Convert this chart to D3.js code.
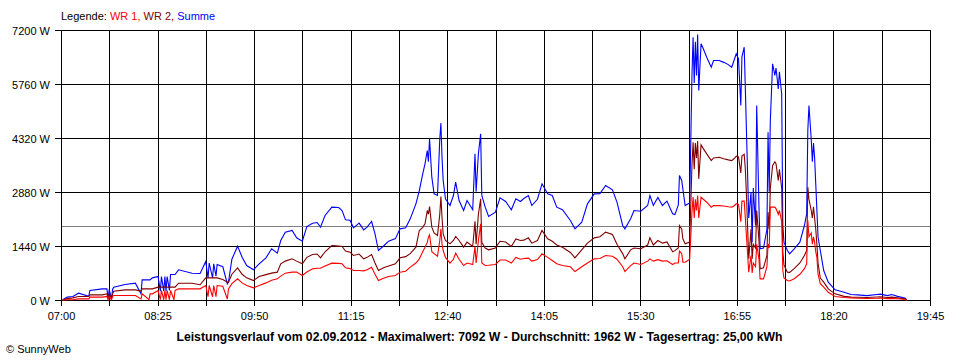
<!DOCTYPE html>
<html><head><meta charset="utf-8">
<script src="https://cdn.jsdelivr.net/npm/d3@7"></script>
<style>
html,body{margin:0;padding:0;background:#fff;}
svg{display:block;font-family:"Liberation Sans",Arial,sans-serif;}
</style></head>
<body>
<svg id="c" width="960" height="360"></svg>
<script>
const times = ["07:01","07:05","07:10","07:15","07:24","07:25","07:36","07:40","07:41","07:42","07:44","07:45","07:46","07:56","08:05","08:10","08:11","08:17","08:18","08:20","08:25","08:27","08:28","08:30","08:31","08:32","08:33","08:35","08:36","08:39","08:40","08:43","08:55","09:02","09:07","09:09","09:10","09:13","09:14","09:16","09:17","09:22","09:26","09:27","09:30","09:35","09:39","09:43","09:49","09:54","10:00","10:05","10:10","10:13","10:17","10:23","10:27","10:32","10:36","10:41","10:45","10:48","10:52","10:58","11:04","11:07","11:10","11:14","11:17","11:22","11:26","11:29","11:33","11:36","11:39","11:44","11:48","11:54","11:58","12:03","12:07","12:12","12:15","12:18","12:20","12:22","12:23","12:24","12:26","12:28","12:31","12:33","12:34","12:35","12:36","12:38","12:42","12:45","12:47","12:50","12:54","12:57","13:02","13:04","13:05","13:07","13:09","13:10","13:13","13:16","13:22","13:26","13:31","13:36","13:40","13:44","13:47","13:51","13:54","13:59","14:03","14:08","14:12","14:16","14:21","14:28","14:32","14:38","14:43","14:49","14:54","14:59","15:05","15:09","15:14","15:16","15:21","15:24","15:30","15:36","15:38","15:41","15:45","15:49","15:53","15:58","16:00","16:03","16:04","16:06","16:07","16:09","16:13","16:15","16:16","16:17","16:18","16:19","16:20","16:21","16:23","16:25","16:28","16:32","16:34","16:39","16:43","16:47","16:50","16:52","16:54","16:56","16:58","16:59","17:01","17:02","17:03","17:05","17:07","17:08","17:09","17:11","17:12","17:14","17:15","17:18","17:21","17:22","17:23","17:24","17:26","17:28","17:29","17:31","17:32","17:34","17:35","17:36","17:39","17:41","17:45","17:50","17:54","17:56","17:57","17:58","18:00","18:01","18:02","18:03","18:04","18:05","18:06","18:08","18:11","18:15","18:21","18:29","18:35","18:41","18:49","18:58","19:01","19:07","19:11","19:16","19:23","19:24"];
const summe = [20,90,105,195,110,267,311,311,40,300,40,300,356,427,462,180,551,551,551,604,640,250,640,250,640,250,640,270,693,693,693,818,728,720,1040,600,1000,600,980,650,960,900,444,489,1100,1449,1156,933,818,978,1138,1378,1262,1600,1822,1867,1671,1582,1973,2062,2080,1956,2267,2489,2480,2400,2151,2140,1938,2062,1884,1956,2107,1778,1333,1467,1582,1650,1911,1938,2178,2578,2933,3378,3644,4000,3700,4311,3289,2844,2800,4300,4729,3800,3200,2711,2533,2800,3156,2667,2400,2667,2420,3911,2900,3911,4444,2800,2489,2240,2356,2738,2640,2418,2711,2640,2720,2800,2533,2700,3111,2844,2800,2489,2420,2133,1911,2089,2578,2844,2850,3067,2950,2622,2000,1911,2178,2400,2380,2533,2800,2533,2750,2533,2650,2311,2290,2550,3333,3200,2978,2533,2600,6000,7022,5800,6900,6000,7092,5600,6844,6711,6489,6222,6400,6400,6350,6290,6220,6400,6578,6440,5200,6500,6756,5644,4500,2200,2889,1556,3000,2000,5200,2500,1378,1400,1900,4489,2900,4800,6311,6000,6200,5640,6100,5500,2000,1556,1333,1244,1378,1556,2000,2311,4533,5200,4300,3700,4200,3800,3100,2400,1700,1333,800,489,284,222,160,150,130,160,170,130,160,110,60,0];
const wr2 = [10,50,70,107,107,151,151,178,60,178,60,178,249,284,284,250,311,311,311,311,356,356,356,356,356,356,356,356,356,356,356,462,462,420,604,604,604,604,604,604,604,560,489,489,700,871,700,604,533,640,690,730,756,978,1050,1111,1050,978,1150,1227,1240,1138,1300,1467,1450,1440,1320,1289,1200,1240,1111,1150,1227,1000,800,880,920,978,1138,1170,1250,1422,1867,1950,2044,2400,2300,2507,1956,1800,1733,2300,2773,2200,1778,1600,1511,1600,1707,1600,1422,1556,1440,2111,1500,2300,2711,1550,1400,1351,1400,1580,1560,1440,1640,1600,1610,1671,1530,1600,1867,1644,1580,1480,1422,1280,1138,1350,1530,1671,1700,1822,1760,1500,1250,1111,1350,1400,1380,1480,1671,1480,1600,1530,1560,1300,1330,1400,2000,1900,1644,1511,1560,3600,4222,3500,4200,3800,4250,3244,4150,4050,3911,3733,3800,3820,3780,3750,3730,3780,3850,3830,3400,3850,3900,3500,2800,1111,1900,1111,1500,1400,2400,1600,844,870,1200,2356,1900,3000,3600,3700,3650,3200,3500,3000,1300,950,756,750,850,1000,1200,1333,3022,2700,2400,2200,2500,2200,1900,1500,1000,600,489,311,178,110,89,85,80,95,100,80,90,70,40,0];
const wr1 = [10,20,20,44,44,89,89,110,20,110,20,110,133,133,133,40,178,20,178,178,267,20,267,20,267,20,267,20,267,20,267,311,311,311,400,100,400,100,400,100,400,380,40,311,450,578,470,400,338,400,470,540,578,650,729,756,756,667,760,844,860,860,920,996,990,978,871,850,800,800,790,820,889,700,533,600,640,667,756,780,889,1000,1111,1300,1422,1550,1689,1750,1300,1250,1180,1600,1911,1500,1333,1150,996,1100,1262,1100,933,1000,960,1440,1000,1600,2044,1000,933,940,960,1080,1080,1000,1150,1100,1120,1130,1050,1090,1244,1150,1067,980,933,900,773,900,1000,1111,1120,1200,1180,1100,900,773,930,1000,960,1050,1111,1050,1090,1050,1060,960,1000,1000,1316,1250,1022,1022,1100,2356,2756,2200,2700,2400,2800,2200,2756,2700,2620,2489,2530,2530,2520,2500,2489,2520,2580,2560,2100,2650,2650,2200,1700,756,1200,733,1000,900,1500,1100,578,578,900,1500,1400,2489,2489,2489,2450,2300,2400,2100,800,600,533,520,580,700,850,978,2133,1700,1800,1500,1700,1550,1300,1150,700,450,356,220,107,80,70,60,55,60,65,50,55,45,25,0];

const xTickLabels = ["07:00","08:25","09:50","11:15","12:40","14:05","15:30","16:55","18:20","19:45"];
const yTicks = [0,1440,2880,4320,5760,7200];
const average = 1962;
const legendItems = [["Legende: ","#000000"],["WR 1, ","#ff0000"],["WR 2, ","#800000"],["Summe","#0000ff"]];
const titleText = "Leistungsverlauf vom 02.09.2012 - Maximalwert: 7092 W - Durchschnitt: 1962 W - Tagesertrag: 25,00 kWh";
const copyText = "\u00A9 SunnyWeb";

const toMin = s => { const [h,m] = s.split(":").map(Number); return h*60+m; };
const svg = d3.select("#c");
const L = 61, R = 930, T = 30, B = 300;
const tMin = toMin(xTickLabels[0]), tMax = toMin(xTickLabels[xTickLabels.length-1]);
const x = d3.scaleLinear().domain([tMin, tMax]).range([L + 0.5, R + 0.5]);
const y = d3.scaleLinear().domain([0, 7200]).range([B + 0.5, T + 0.5]);

const step = (tMax - tMin) / (xTickLabels.length - 1);
const gridT = d3.range(0, 2*(xTickLabels.length-1)+1).map(i => tMin + i*step/2);

const g = svg.append("g").attr("shape-rendering","crispEdges");
g.selectAll(".vg").data(gridT).enter().append("line")
  .attr("x1", d=>Math.round(x(d)-0.5)+0.5).attr("x2", d=>Math.round(x(d)-0.5)+0.5)
  .attr("y1", y(7200)).attr("y2", B + 6).attr("stroke","#000");
g.selectAll(".hg").data(yTicks).enter().append("line")
  .attr("x1", L - 6).attr("x2", R + 0.5)
  .attr("y1", d=>y(d)).attr("y2", d=>y(d)).attr("stroke","#000");
g.append("line").attr("x1", L+1).attr("x2", R).attr("y1", Math.round(y(average)-0.5)+0.5).attr("y2", Math.round(y(average)-0.5)+0.5)
  .attr("stroke","#808080");

svg.selectAll(".yl").data(yTicks).enter().append("text")
  .attr("x", 50).attr("y", d=>y(d)+4).attr("text-anchor","end")
  .attr("font-size","11px").attr("fill","#000").text(d=>d+" W");
svg.selectAll(".xl").data(xTickLabels).enter().append("text")
  .attr("x", d=>x(toMin(d))).attr("y", 320).attr("text-anchor","middle")
  .attr("font-size","11px").attr("fill","#000").text(d=>d);

const mk = arr => times.map((t,i)=>({t:toMin(t), v:arr[i]}));
const line = d3.line().x(d=>x(d.t)).y(d=>y(d.v)).curve(d3.curveLinear);
const lg = svg.append("g").attr("fill","none").attr("stroke-width",1.1);
lg.append("path").attr("d", line(mk(summe))).attr("stroke","#0000ff");
lg.append("path").attr("d", line(mk(wr2))).attr("stroke","#800000");
lg.append("path").attr("d", line(mk(wr1))).attr("stroke","#ff0000");

const lt = svg.append("text").attr("x", 61).attr("y", 20).attr("font-size","11px");
legendItems.forEach(([s,c]) => lt.append("tspan").attr("fill",c).text(s));
lt.attr("xml:space","preserve").style("white-space","pre");

svg.append("text").attr("x", 479.5).attr("y", 341).attr("text-anchor","middle")
  .attr("font-size","12px").attr("font-weight","bold").attr("fill","#000")
  .attr("textLength", 606).attr("lengthAdjust","spacingAndGlyphs").text(titleText);
svg.append("text").attr("x", 6).attr("y", 353).attr("font-size","11px").attr("fill","#000").text(copyText);
</script>
</body></html>
